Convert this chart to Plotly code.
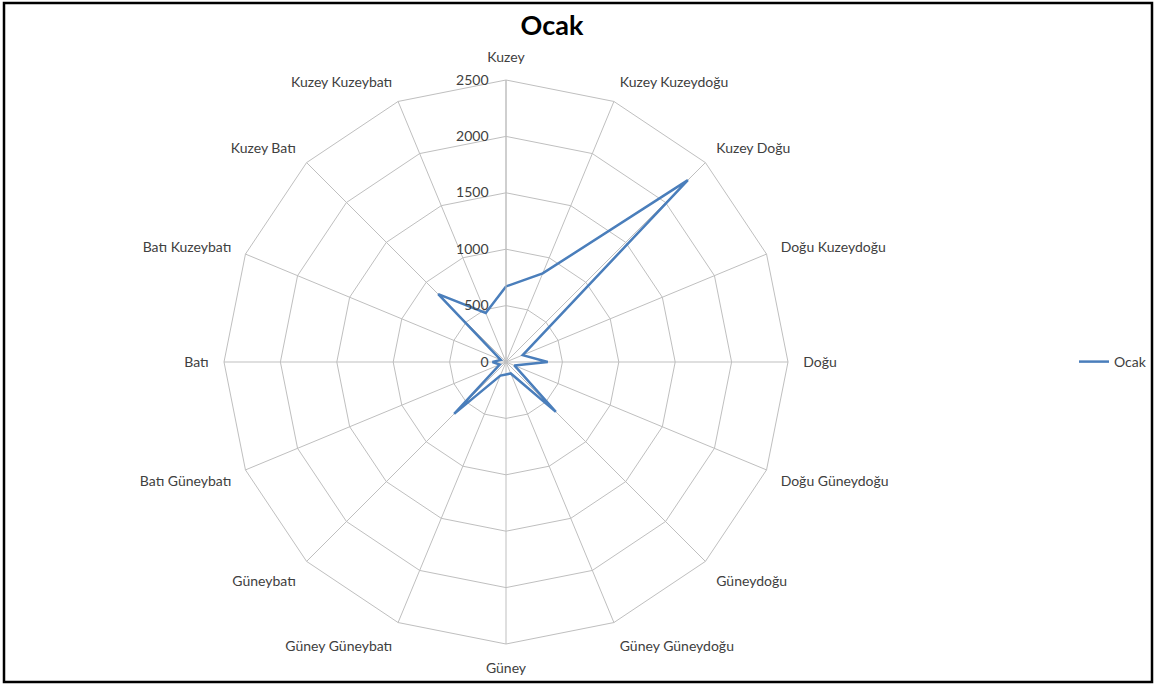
import plotly.graph_objects as go

# Wind direction frequencies for January (Ocak)
directions = [
    "Kuzey", "Kuzey Kuzeydoğu", "Kuzey Doğu", "Doğu Kuzeydoğu",
    "Doğu", "Doğu Güneydoğu", "Güneydoğu", "Güney Güneydoğu",
    "Güney", "Güney Güneybatı", "Güneybatı", "Batı Güneybatı",
    "Batı", "Batı Kuzeybatı", "Kuzey Batı", "Kuzey Kuzeybatı",
]
ocak = [670, 850, 2280, 160, 370, 80, 625, 110,
        110, 130, 650, 60, 120, 50, 850, 470]
radial_ticks = [0, 500, 1000, 1500, 2000, 2500]

series_name = "Ocak"
line_color = "#4a7ebb"
grid_color = "#bfbfbf"
text_color = "#404040"
font_family = "Lato, 'Open Sans', sans-serif"

# close the polygon by repeating the first direction
r_closed = ocak + ocak[:1]
theta_closed = directions + directions[:1]

fig = go.Figure()
fig.add_trace(go.Scatterpolar(
    r=r_closed,
    theta=theta_closed,
    mode="lines",
    name=series_name,
    line=dict(color=line_color, width=2.5),
))

W, H = 1156, 686
cx, cy, rad = 506, 362, 282

fig.update_layout(
    width=W,
    height=H,
    margin=dict(l=0, r=0, t=0, b=0),
    paper_bgcolor="white",
    plot_bgcolor="white",
    font=dict(family=font_family, size=14, color=text_color),
    title=dict(
        text="<b>Ocak</b>",
        x=552 / W,
        xanchor="center",
        y=1 - 26 / H,
        yanchor="middle",
        font=dict(family=font_family, size=27, color="black"),
    ),
    showlegend=True,
    legend=dict(
        x=1074 / W,
        xanchor="left",
        y=1 - cy / H,
        yanchor="middle",
        bgcolor="rgba(0,0,0,0)",
        font=dict(size=14, color=text_color),
    ),
    polar=dict(
        domain=dict(
            x=[(cx - rad) / W, (cx + rad) / W],
            y=[1 - (cy + rad) / H, 1 - (cy - rad) / H],
        ),
        bgcolor="white",
        gridshape="linear",
        angularaxis=dict(
            direction="clockwise",
            rotation=90,
            type="category",
            categoryorder="array",
            categoryarray=directions,
            showline=True,
            linecolor=grid_color,
            linewidth=1,
            gridcolor=grid_color,
            gridwidth=1,
            ticks="outside",
            ticklen=12,
            tickcolor="rgba(0,0,0,0)",
            tickfont=dict(size=14, color=text_color),
        ),
        radialaxis=dict(
            range=[0, 2500],
            tickvals=radial_ticks,
            ticktext=[str(v) for v in radial_ticks],
            angle=90,
            tickangle=90,
            side="counterclockwise",
            showline=True,
            linecolor=grid_color,
            linewidth=1,
            gridcolor=grid_color,
            gridwidth=1,
            ticks="outside",
            ticklen=12,
            tickcolor="rgba(0,0,0,0)",
            tickfont=dict(size=14, color=text_color),
        ),
    ),
    shapes=[
        dict(
            type="rect", xref="paper", yref="paper",
            x0=4 / W, x1=1152 / W, y0=1 - 682 / H, y1=1 - 3 / H,
            line=dict(color="black", width=2.5),
            fillcolor="rgba(0,0,0,0)",
        )
    ],
)

fig.write_html("out.html")
